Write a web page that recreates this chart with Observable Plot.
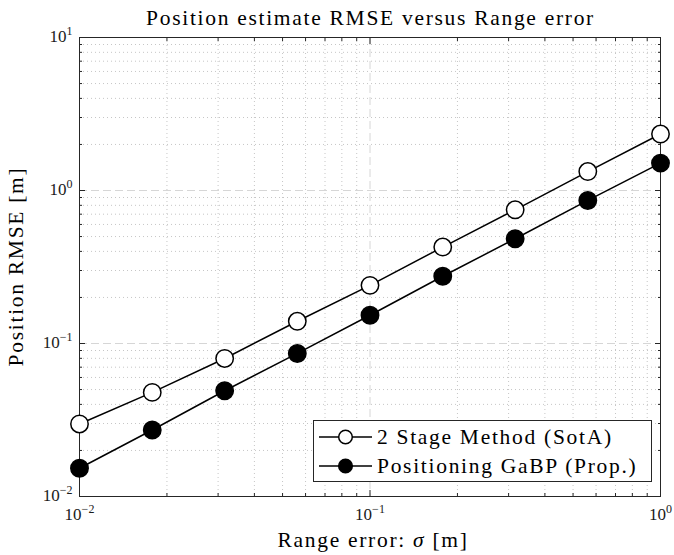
<!DOCTYPE html>
<html>
<head>
<meta charset="utf-8">
<script src="https://cdn.jsdelivr.net/npm/d3@7"></script>
<script src="https://cdn.jsdelivr.net/npm/@observablehq/plot@0.6"></script>
<style>
  html, body { margin: 0; padding: 0; background: #fff; }
  #chart { position: relative; width: 674px; height: 555px; }
  .big { letter-spacing: 1.7px; }
</style>
</head>
<body>
<div id="chart"></div>
<script>
// ---- data ----
const sigma = [0.01, 0.0178, 0.0316, 0.0562, 0.1, 0.178, 0.316, 0.562, 1];
const rmseSotA = [0.0298, 0.0479, 0.0798, 0.1397, 0.240, 0.427, 0.748, 1.33, 2.34];
const rmseGaBP = [0.0153, 0.0272, 0.0491, 0.0861, 0.153, 0.275, 0.484, 0.861, 1.51];
const seriesNames = ["2 Stage Method (SotA)", "Positioning GaBP (Prop.)"];
const seriesFill = ["white", "black"];

const xMajorTicks = [0.01, 0.1, 1];
const xTickLabels = ["10^\u22122", "10^\u22121", "10^0"];
const yMajorTicks = [0.01, 0.1, 1, 10];
const yTickLabels = ["10^\u22122", "10^\u22121", "10^0", "10^1"];

const titleText = "Position estimate RMSE versus Range error";
const xLabelText = ["Range error: ", "\u03C3", " [m]"];
const yLabelText = "Position RMSE [m]";

// ---- build ----
const FONT = '"Liberation Serif", "DejaVu Serif", serif';
const AX = "#262626";
const BIG = 21.5;
const TICKFONT = 17;
const isMajor = (v, majors) => majors.some(m => Math.abs(m - v) / m < 1e-9);
const xMinorTicks = d3.scaleLog().domain([0.01, 1]).ticks().filter(v => !isMajor(v, xMajorTicks));
const yMinorTicks = d3.scaleLog().domain([0.01, 10]).ticks().filter(v => !isMajor(v, yMajorTicks));

const table = [];
[rmseSotA, rmseGaBP].forEach((vals, s) => {
  sigma.forEach((x, i) => table.push({sigma: x, rmse: vals[i], method: seriesNames[s]}));
});

const minorGrid = {stroke: "#c6c6c6", strokeOpacity: 1, strokeDasharray: "1,3", strokeWidth: 1};
const majorGrid = {stroke: "#d6d6d6", strokeOpacity: 1, strokeDasharray: "8,4", strokeWidth: 1};
const noText = () => "";

const plot = Plot.plot({
  width: 674,
  height: 555,
  marginLeft: 79,
  marginRight: 14,
  marginTop: 37,
  marginBottom: 59,
  style: {fontFamily: FONT, fontSize: "17px", color: AX, background: "white", overflow: "visible"},
  x: {type: "log", domain: [0.01, 1], label: null},
  y: {type: "log", domain: [0.01, 10], label: null},
  marks: [
    Plot.gridX(xMinorTicks, minorGrid),
    Plot.gridY(yMinorTicks, minorGrid),
    Plot.gridX([0.1], majorGrid),
    Plot.gridY([0.1, 1], majorGrid),
    // inward major ticks on all four sides
    Plot.axisX(xMajorTicks, {anchor: "bottom", tickSize: -6, tickFormat: noText, label: null}),
    Plot.axisX(xMajorTicks, {anchor: "top", tickSize: -6, tickFormat: noText, label: null}),
    Plot.axisY(yMajorTicks, {anchor: "left", tickSize: -6, tickFormat: noText, label: null}),
    Plot.axisY(yMajorTicks, {anchor: "right", tickSize: -6, tickFormat: noText, label: null}),
    // inward minor ticks
    Plot.axisX(xMinorTicks, {anchor: "bottom", tickSize: -3, tickFormat: noText, label: null}),
    Plot.axisX(xMinorTicks, {anchor: "top", tickSize: -3, tickFormat: noText, label: null}),
    Plot.axisY(yMinorTicks, {anchor: "left", tickSize: -3, tickFormat: noText, label: null}),
    Plot.axisY(yMinorTicks, {anchor: "right", tickSize: -3, tickFormat: noText, label: null}),
    // tick labels (positioned by the scales)
    Plot.text(xMajorTicks, {x: d => d, frameAnchor: "bottom", lineAnchor: "middle", textAnchor: "middle",
      dy: 18.5, fontSize: TICKFONT, fill: "#1a1a1a",
      text: d => xTickLabels[xMajorTicks.indexOf(d)]}),
    Plot.text(yMajorTicks, {y: d => d, frameAnchor: "left", lineAnchor: "middle", textAnchor: "end",
      dx: -7, dy: -1, fontSize: TICKFONT, fill: "#1a1a1a",
      text: d => yTickLabels[yMajorTicks.indexOf(d)]}),
    Plot.frame({stroke: AX, strokeWidth: 1}),
    Plot.line(table, {x: "sigma", y: "rmse", z: "method", stroke: "black", strokeWidth: 1.5}),
    Plot.dot(table, {x: "sigma", y: "rmse", r: 8.7, stroke: "black", strokeWidth: 1.5,
      fill: d => seriesFill[seriesNames.indexOf(d.method)]})
  ]
});

document.getElementById("chart").appendChild(plot);
const svg = d3.select(plot);

// superscript exponents on tick labels
svg.selectAll("text").each(function () {
  const t = this.textContent;
  if (!t.includes("^")) return;
  const [base, exp] = t.split("^");
  const sel = d3.select(this);
  sel.text(base);
  sel.append("tspan").attr("dy", -7).style("font-size", "12px").text(exp);
});

// title and axis labels
svg.append("text").attr("class", "big")
  .attr("x", 370.5).attr("y", 25).attr("text-anchor", "middle")
  .attr("font-family", FONT).style("font-size", BIG + "px").attr("fill", "black")
  .text(titleText);

const xl = svg.append("text").attr("class", "big")
  .attr("x", 373).attr("y", 547).attr("text-anchor", "middle")
  .attr("font-family", FONT).style("font-size", BIG + "px").attr("fill", "black");
xl.append("tspan").text(xLabelText[0]);
xl.append("tspan").attr("font-style", "italic").text(xLabelText[1]);
xl.append("tspan").text(xLabelText[2]);

svg.append("text").attr("class", "big")
  .attr("transform", "translate(23,266.5) rotate(-90)").attr("text-anchor", "middle")
  .attr("font-family", FONT).style("font-size", BIG + "px").attr("fill", "black")
  .text(yLabelText);

// legend
const lg = svg.append("g").attr("class", "legend");
lg.append("rect").attr("x", 313.5).attr("y", 420.5).attr("width", 338).attr("height", 61)
  .attr("fill", "white").attr("stroke", AX).attr("stroke-width", 1);
seriesNames.forEach((name, i) => {
  const cy = 437 + i * 29;
  lg.append("line").attr("x1", 319).attr("x2", 372).attr("y1", cy).attr("y2", cy)
    .attr("stroke", "black").attr("stroke-width", 1.5);
  lg.append("circle").attr("cx", 345.5).attr("cy", cy).attr("r", 6.8)
    .attr("fill", seriesFill[i]).attr("stroke", "black").attr("stroke-width", 1.5);
  lg.append("text").attr("class", "big").attr("x", 377).attr("y", cy).attr("dy", "0.32em")
    .attr("text-anchor", "start")
    .attr("font-family", FONT).style("font-size", BIG + "px").attr("fill", "black").text(name);
});
</script>
</body>
</html>
